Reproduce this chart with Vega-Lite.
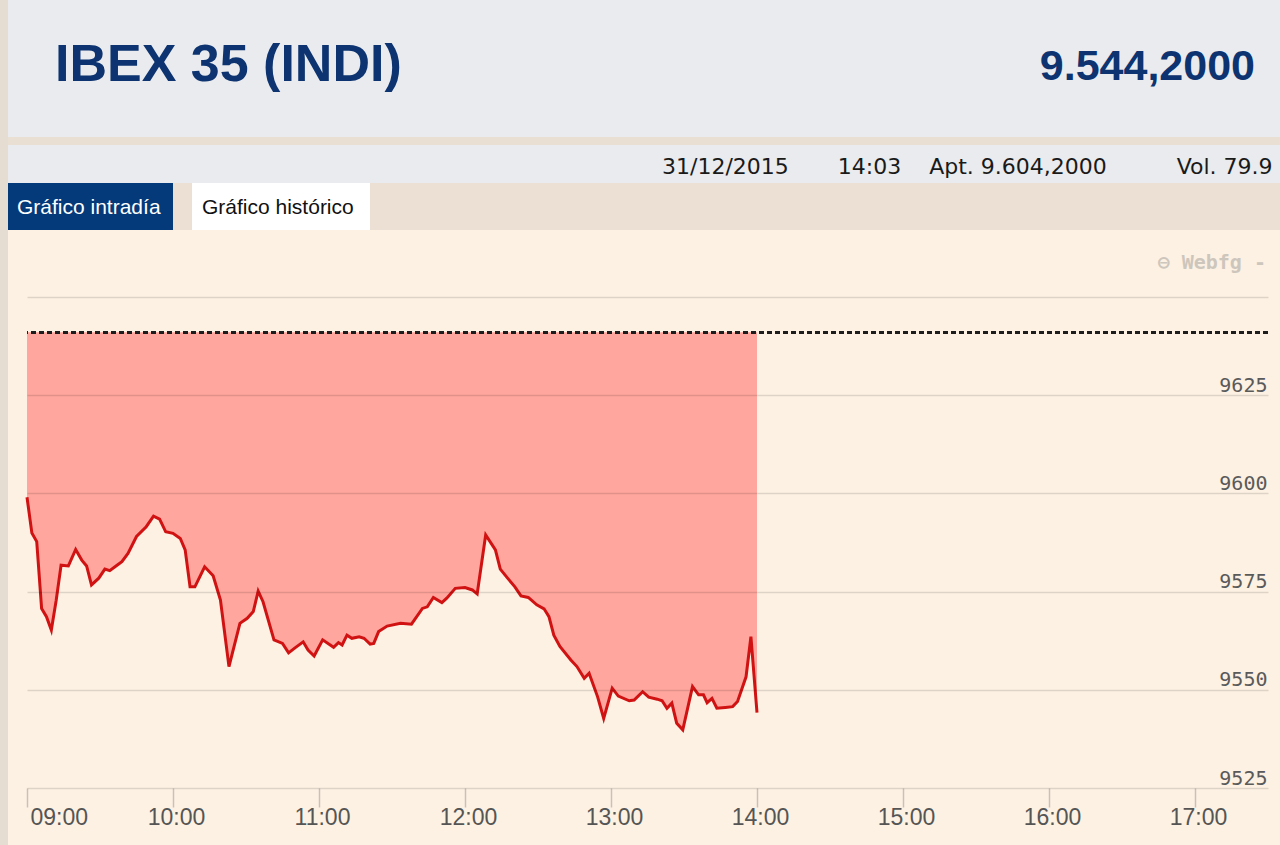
{
  "$schema": "https://vega.github.io/schema/vega-lite/v6.json",
  "background": "#fdf1e3",
  "padding": 0,
  "spacing": 0,
  "config": {
    "view": {"stroke": null},
    "title": {"frame": "group", "baseline": "alphabetic"}
  },
  "datasets": {
    "empty": [],
    "ibex": [
      {"t": "2015-12-31T09:00:00", "v": 9599.0},
      {"t": "2015-12-31T09:02:00", "v": 9589.9},
      {"t": "2015-12-31T09:04:00", "v": 9587.7},
      {"t": "2015-12-31T09:06:00", "v": 9570.7},
      {"t": "2015-12-31T09:08:00", "v": 9568.6},
      {"t": "2015-12-31T09:10:00", "v": 9565.2},
      {"t": "2015-12-31T09:12:00", "v": 9572.8},
      {"t": "2015-12-31T09:14:00", "v": 9581.7},
      {"t": "2015-12-31T09:17:00", "v": 9581.5},
      {"t": "2015-12-31T09:20:00", "v": 9585.7},
      {"t": "2015-12-31T09:22:30", "v": 9583.0},
      {"t": "2015-12-31T09:24:30", "v": 9581.5},
      {"t": "2015-12-31T09:26:30", "v": 9576.7},
      {"t": "2015-12-31T09:29:30", "v": 9578.4},
      {"t": "2015-12-31T09:32:00", "v": 9580.7},
      {"t": "2015-12-31T09:34:00", "v": 9580.3},
      {"t": "2015-12-31T09:37:00", "v": 9581.7},
      {"t": "2015-12-31T09:39:00", "v": 9582.6},
      {"t": "2015-12-31T09:41:30", "v": 9584.7},
      {"t": "2015-12-31T09:45:00", "v": 9589.0},
      {"t": "2015-12-31T09:49:00", "v": 9591.5},
      {"t": "2015-12-31T09:52:00", "v": 9594.2},
      {"t": "2015-12-31T09:54:30", "v": 9593.4},
      {"t": "2015-12-31T09:57:00", "v": 9590.2},
      {"t": "2015-12-31T10:00:00", "v": 9589.8},
      {"t": "2015-12-31T10:03:00", "v": 9588.5},
      {"t": "2015-12-31T10:05:00", "v": 9585.6},
      {"t": "2015-12-31T10:07:00", "v": 9576.2},
      {"t": "2015-12-31T10:09:00", "v": 9576.2},
      {"t": "2015-12-31T10:13:00", "v": 9581.3},
      {"t": "2015-12-31T10:16:30", "v": 9579.0},
      {"t": "2015-12-31T10:19:30", "v": 9572.8},
      {"t": "2015-12-31T10:23:00", "v": 9555.9},
      {"t": "2015-12-31T10:27:30", "v": 9566.9},
      {"t": "2015-12-31T10:30:30", "v": 9568.2},
      {"t": "2015-12-31T10:33:00", "v": 9569.9},
      {"t": "2015-12-31T10:35:00", "v": 9575.1},
      {"t": "2015-12-31T10:37:00", "v": 9572.4},
      {"t": "2015-12-31T10:41:30", "v": 9562.7},
      {"t": "2015-12-31T10:45:00", "v": 9561.8},
      {"t": "2015-12-31T10:47:30", "v": 9559.4},
      {"t": "2015-12-31T10:50:00", "v": 9560.6},
      {"t": "2015-12-31T10:53:30", "v": 9562.2},
      {"t": "2015-12-31T10:55:30", "v": 9560.1},
      {"t": "2015-12-31T10:58:00", "v": 9558.6},
      {"t": "2015-12-31T11:01:30", "v": 9562.7},
      {"t": "2015-12-31T11:06:00", "v": 9560.8},
      {"t": "2015-12-31T11:08:00", "v": 9562.0},
      {"t": "2015-12-31T11:09:30", "v": 9561.4},
      {"t": "2015-12-31T11:11:30", "v": 9563.9},
      {"t": "2015-12-31T11:13:30", "v": 9563.1},
      {"t": "2015-12-31T11:16:30", "v": 9563.5},
      {"t": "2015-12-31T11:18:30", "v": 9563.1},
      {"t": "2015-12-31T11:21:00", "v": 9561.6},
      {"t": "2015-12-31T11:22:30", "v": 9561.8},
      {"t": "2015-12-31T11:24:30", "v": 9564.8},
      {"t": "2015-12-31T11:28:00", "v": 9566.2},
      {"t": "2015-12-31T11:33:30", "v": 9566.9},
      {"t": "2015-12-31T11:38:00", "v": 9566.7},
      {"t": "2015-12-31T11:42:30", "v": 9570.7},
      {"t": "2015-12-31T11:44:30", "v": 9571.1},
      {"t": "2015-12-31T11:47:00", "v": 9573.5},
      {"t": "2015-12-31T11:50:30", "v": 9572.2},
      {"t": "2015-12-31T11:52:30", "v": 9573.3},
      {"t": "2015-12-31T11:56:00", "v": 9575.8},
      {"t": "2015-12-31T12:00:00", "v": 9576.0},
      {"t": "2015-12-31T12:03:00", "v": 9575.4},
      {"t": "2015-12-31T12:05:00", "v": 9574.4},
      {"t": "2015-12-31T12:08:30", "v": 9589.4},
      {"t": "2015-12-31T12:12:30", "v": 9585.6},
      {"t": "2015-12-31T12:14:30", "v": 9580.7},
      {"t": "2015-12-31T12:17:30", "v": 9578.4},
      {"t": "2015-12-31T12:20:30", "v": 9576.2},
      {"t": "2015-12-31T12:23:00", "v": 9573.9},
      {"t": "2015-12-31T12:26:00", "v": 9573.5},
      {"t": "2015-12-31T12:29:30", "v": 9571.6},
      {"t": "2015-12-31T12:32:30", "v": 9570.6},
      {"t": "2015-12-31T12:34:30", "v": 9568.6},
      {"t": "2015-12-31T12:36:30", "v": 9563.9},
      {"t": "2015-12-31T12:39:00", "v": 9561.0},
      {"t": "2015-12-31T12:43:30", "v": 9557.6},
      {"t": "2015-12-31T12:46:00", "v": 9555.9},
      {"t": "2015-12-31T12:49:00", "v": 9552.9},
      {"t": "2015-12-31T12:51:00", "v": 9554.2},
      {"t": "2015-12-31T12:54:30", "v": 9548.2},
      {"t": "2015-12-31T12:57:00", "v": 9542.7},
      {"t": "2015-12-31T13:00:30", "v": 9550.4},
      {"t": "2015-12-31T13:03:00", "v": 9548.4},
      {"t": "2015-12-31T13:07:30", "v": 9547.2},
      {"t": "2015-12-31T13:09:30", "v": 9547.4},
      {"t": "2015-12-31T13:13:00", "v": 9549.5},
      {"t": "2015-12-31T13:15:30", "v": 9548.1},
      {"t": "2015-12-31T13:19:00", "v": 9547.6},
      {"t": "2015-12-31T13:21:00", "v": 9547.2},
      {"t": "2015-12-31T13:23:00", "v": 9545.3},
      {"t": "2015-12-31T13:25:00", "v": 9546.6},
      {"t": "2015-12-31T13:27:00", "v": 9541.5},
      {"t": "2015-12-31T13:29:30", "v": 9539.8},
      {"t": "2015-12-31T13:33:30", "v": 9550.8},
      {"t": "2015-12-31T13:36:00", "v": 9548.7},
      {"t": "2015-12-31T13:38:00", "v": 9548.7},
      {"t": "2015-12-31T13:39:30", "v": 9546.7},
      {"t": "2015-12-31T13:41:30", "v": 9547.8},
      {"t": "2015-12-31T13:43:30", "v": 9545.3},
      {"t": "2015-12-31T13:47:00", "v": 9545.5},
      {"t": "2015-12-31T13:50:00", "v": 9545.7},
      {"t": "2015-12-31T13:52:00", "v": 9547.0},
      {"t": "2015-12-31T13:55:30", "v": 9553.3},
      {"t": "2015-12-31T13:57:30", "v": 9563.5},
      {"t": "2015-12-31T14:00:00", "v": 9544.2}
    ]
  },
  "hconcat": [
    {
      "width": 8, "height": 845,
      "view": {"fill": "#e6ddd2", "stroke": null},
      "data": {"name": "empty"},
      "mark": "point"
    },
    {
      "spacing": 0,
      "vconcat": [
        {
          "spacing": 0,
          "hconcat": [
            {
              "width": 636, "height": 137,
              "view": {"fill": "#e9ebee", "stroke": null},
              "title": {"text": "IBEX 35 (INDI)", "anchor": "start", "offset": -92, "dx": 47, "font": "Liberation Sans", "fontSize": 52, "fontWeight": "bold", "color": "#0d3470"},
              "data": {"name": "empty"},
              "mark": "point"
            },
            {
              "width": 636, "height": 137,
              "view": {"fill": "#e9ebee", "stroke": null},
              "title": {"text": "9.544,2000", "anchor": "end", "offset": -89, "dx": -25, "font": "Liberation Sans", "fontSize": 43, "fontWeight": "bold", "color": "#0d3470"},
              "data": {"name": "empty"},
              "mark": "point"
            }
          ]
        },
        {
          "width": 1272, "height": 8,
          "view": {"fill": "#e9dfd3", "stroke": null},
          "data": {"name": "empty"},
          "mark": "point"
        },
        {
          "width": 1272, "height": 38,
          "view": {"fill": "#e9ebee", "stroke": null},
          "title": {"text": "31/12/2015\u00a0\u00a0\u00a0\u00a0\u00a0\u00a0\u00a014:03\u00a0\u00a0\u00a0\u00a0Apt. 9.604,2000\u00a0\u00a0\u00a0\u00a0\u00a0\u00a0\u00a0\u00a0\u00a0\u00a0Vol. 79.9", "anchor": "start", "offset": -34, "dx": 654, "font": "DejaVu Sans", "fontSize": 22, "fontWeight": "normal", "color": "#1a1a1a"},
          "data": {"name": "empty"},
          "mark": "point"
        },
        {
          "spacing": 0,
          "hconcat": [
            {
              "width": 165, "height": 47,
              "view": {"fill": "#053a7a", "stroke": null},
              "title": {"text": "Gráfico intradía", "anchor": "start", "offset": -35, "dx": 9, "font": "Liberation Sans", "fontSize": 21, "fontWeight": "normal", "color": "#ffffff"},
              "data": {"name": "empty"},
              "mark": "point"
            },
            {
              "width": 19, "height": 47,
              "view": {"fill": "#ebe0d3", "stroke": null},
              "data": {"name": "empty"},
              "mark": "point"
            },
            {
              "width": 178, "height": 47,
              "view": {"fill": "#ffffff", "stroke": null},
              "title": {"text": "Gráfico histórico", "anchor": "start", "offset": -35, "dx": 10, "font": "Liberation Sans", "fontSize": 21, "fontWeight": "normal", "color": "#111111"},
              "data": {"name": "empty"},
              "mark": "point"
            },
            {
              "width": 910, "height": 47,
              "view": {"fill": "#ebe0d3", "stroke": null},
              "data": {"name": "empty"},
              "mark": "point"
            }
          ]
        },
        {
          "spacing": 0,
          "hconcat": [
            {
              "width": 13, "height": 10,
              "data": {"name": "empty"},
              "mark": "point"
            },
            {
              "width": 1241, "height": 558,
              "title": {"text": "⊖ Webfg -", "anchor": "end", "offset": -43, "dx": -2, "font": "DejaVu Sans Mono", "fontSize": 20, "fontWeight": "bold", "color": "#cdc6bd"},
              "data": {"name": "ibex"},
              "layer": [
                {
                  "mark": {"type": "area", "color": "#ffa69e", "opacity": 1},
                  "encoding": {
                    "x": {
                      "field": "t", "type": "temporal",
                      "scale": {"domain": [{"year": 2015, "month": 12, "date": 31, "hours": 9, "minutes": 0}, {"year": 2015, "month": 12, "date": 31, "hours": 17, "minutes": 30}], "nice": false},
                      "axis": {
                        "title": null, "format": "%H:%M",
                        "values": [
                          {"year": 2015, "month": 12, "date": 31, "hours": 9},
                          {"year": 2015, "month": 12, "date": 31, "hours": 10},
                          {"year": 2015, "month": 12, "date": 31, "hours": 11},
                          {"year": 2015, "month": 12, "date": 31, "hours": 12},
                          {"year": 2015, "month": 12, "date": 31, "hours": 13},
                          {"year": 2015, "month": 12, "date": 31, "hours": 14},
                          {"year": 2015, "month": 12, "date": 31, "hours": 15},
                          {"year": 2015, "month": 12, "date": 31, "hours": 16},
                          {"year": 2015, "month": 12, "date": 31, "hours": 17}
                        ],
                        "domain": false, "grid": false,
                        "tickColor": "#c9c1b7", "tickSize": 19, "tickWidth": 1.5,
                        "labelPadding": -1, "labelOffset": 3, "labelFlush": true,
                        "labelFont": "Liberation Sans", "labelFontSize": 23, "labelColor": "#555555"
                      }
                    },
                    "y": {
                      "field": "v", "type": "quantitative",
                      "scale": {"domain": [9525, 9667], "nice": false, "zero": false},
                      "axis": {
                        "title": null, "orient": "right", "format": "d",
                        "values": [9525, 9550, 9575, 9600, 9625, 9650],
                        "labelExpr": "datum.value >= 9650 ? '' : datum.label",
                        "grid": true, "gridColor": "#000000", "gridOpacity": 0.12, "gridWidth": 1.5,
                        "domain": false, "ticks": false,
                        "labelAlign": "right", "labelBaseline": "alphabetic",
                        "labelPadding": -1, "labelOffset": -4, "labelFlush": false,
                        "labelFont": "DejaVu Sans Mono", "labelFontSize": 20, "labelColor": "#5a5a5a",
                        "zindex": 1
                      }
                    },
                    "y2": {"datum": 9641}
                  }
                },
                {
                  "mark": {"type": "line", "color": "#d01212", "strokeWidth": 3},
                  "encoding": {
                    "x": {"field": "t", "type": "temporal"},
                    "y": {"field": "v", "type": "quantitative"}
                  }
                },
                {
                  "mark": {"type": "rule", "color": "#1e1e1e", "strokeWidth": 2, "strokeDash": [5, 3]},
                  "encoding": {
                    "y": {"datum": 9641}
                  }
                }
              ]
            }
          ]
        }
      ]
    }
  ]
}
